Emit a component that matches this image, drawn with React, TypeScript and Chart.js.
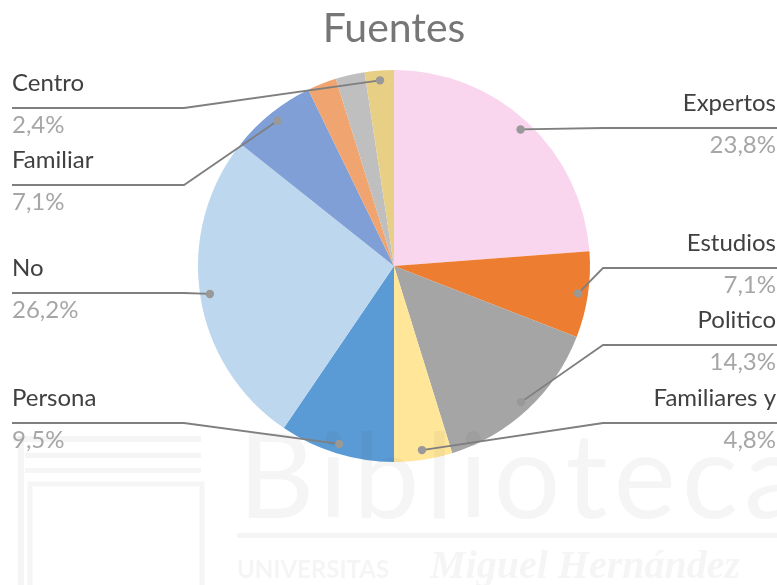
import React, { useEffect, useRef } from "react";
import { Chart, registerables } from "chart.js";

Chart.register(...registerables);

// ---- data ----
const categories = ["Expertos", "Estudios", "Politico", "Familiares y", "Persona", "No", "Familiar", "", "", "Centro"];
const values = [23.8, 7.1, 14.3, 4.8, 9.5, 26.2, 7.1, 2.4, 2.4, 2.4];
const sliceColors = ["#F9D5EE", "#ED7D31", "#A5A5A5", "#FFE699", "#5B9BD5", "#BDD7EE", "#7F9FD6", "#F0A46F", "#BFBFBF", "#E8CF86"];
const titleText = "Fuentes";

// ---- callout layout ----
const labelSide = ["right", "right", "right", "right", "left", "left", "left", "", "", "left"];
const calloutY = [128, 268, 345, 423, 423, 293, 185, 0, 0, 108];

const FONT = "Lato, 'Open Sans', sans-serif";

const fmt = (v: number) => v.toFixed(1).replace(".", ",") + "%";

const calloutPlugin = {
  id: "callouts",
  afterDatasetsDraw(chart: any) {
    const ctx: CanvasRenderingContext2D = chart.ctx;
    const W = chart.width;
    const area = chart.chartArea;

    // faint watermark
    ctx.save();
    ctx.globalCompositeOperation = "multiply";
    ctx.fillStyle = "#f5f5f5";
    ctx.strokeStyle = "#f5f5f5";
    (ctx as any).letterSpacing = "6px";
    ctx.font = `118px ${FONT}`;
    ctx.textAlign = "left";
    ctx.textBaseline = "alphabetic";
    ctx.fillText("Biblioteca", 238, 518);
    (ctx as any).letterSpacing = "0px";
    ctx.fillRect(237, 533, W - 237, 5);
    ctx.font = `bold 24px ${FONT}`;
    ctx.fillText("UNIVERSITAS", 237, 578);
    ctx.font = `italic bold 40px 'Liberation Serif', serif`;
    ctx.fillText("Miguel Hernández", 430, 578);
    ctx.fillRect(13, 436, 188, 6);
    ctx.fillRect(25, 453, 176, 5);
    ctx.fillRect(25, 468, 176, 5);
    ctx.fillRect(18, 436, 6, 150);
    ctx.lineWidth = 5;
    ctx.strokeRect(30, 484, 172, 110);
    ctx.restore();

    // title
    ctx.save();
    ctx.fillStyle = "#767676";
    ctx.font = `41px ${FONT}`;
    ctx.textAlign = "center";
    ctx.textBaseline = "alphabetic";
    ctx.fillText(titleText, (area.left + area.right) / 2, 42);
    ctx.restore();

    const meta = chart.getDatasetMeta(0);
    meta.data.forEach((arc: any, i: number) => {
      if (!categories[i]) return;
      const p = arc.getProps(["x", "y", "startAngle", "endAngle", "outerRadius"], true);
      const mid = (p.startAngle + p.endAngle) / 2;
      const r = p.outerRadius * 0.95;
      const dx = p.x + Math.cos(mid) * r;
      const dy = p.y + Math.sin(mid) * r;
      const ly = calloutY[i];
      const left = labelSide[i] === "left";

      ctx.save();
      ctx.strokeStyle = "#7F7F7F";
      ctx.lineWidth = 1.8;
      ctx.beginPath();
      if (left) {
        ctx.moveTo(12, ly);
        ctx.lineTo(184, ly);
      } else {
        ctx.moveTo(W, ly);
        ctx.lineTo(603, ly);
      }
      ctx.lineTo(dx, dy);
      ctx.stroke();

      ctx.fillStyle = "#999999";
      ctx.beginPath();
      ctx.arc(dx, dy, 4.2, 0, Math.PI * 2);
      ctx.fill();

      ctx.font = `24px ${FONT}`;
      ctx.textBaseline = "alphabetic";
      ctx.textAlign = left ? "left" : "right";
      const tx = left ? 12 : 776;
      ctx.fillStyle = "#404040";
      ctx.fillText(categories[i], tx, ly - 17);
      ctx.fillStyle = "#A6A6A6";
      ctx.fillText(fmt(values[i]), tx, ly + 25);
      ctx.restore();
    });
  },
};

export default function App() {
  const ref = useRef<HTMLCanvasElement | null>(null);

  useEffect(() => {
    if (!ref.current) return;
    const chart = new Chart(ref.current, {
      type: "pie",
      data: {
        labels: categories,
        datasets: [
          {
            data: values,
            backgroundColor: sliceColors,
            borderWidth: 0,
          },
        ],
      },
      options: {
        responsive: false,
        animation: false,
        layout: { padding: { left: 198, right: 187, top: 70, bottom: 123 } },
        plugins: {
          legend: { display: false },
          tooltip: { enabled: false },
          title: { display: false },
        },
      },
      plugins: [calloutPlugin],
    });
    return () => chart.destroy();
  }, []);

  return (
    <div style={{ position: "absolute", left: 0, top: 0, width: 777, height: 585, background: "#fff" }}>
      <canvas ref={ref} width={777} height={585} style={{ display: "block" }} />
    </div>
  );
}
